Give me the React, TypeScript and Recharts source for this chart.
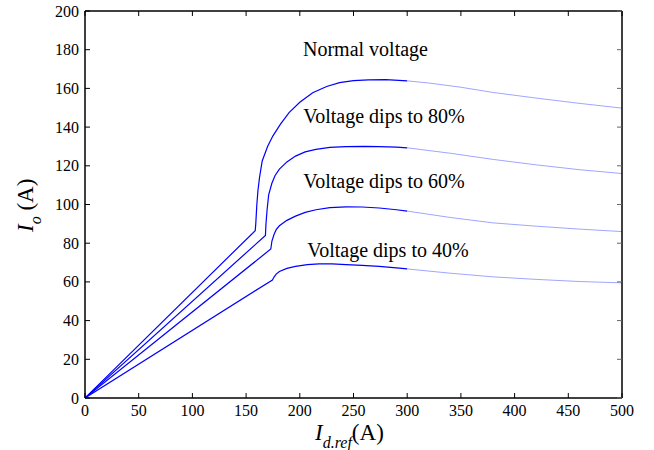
import React from "react";
import {
  LineChart,
  Line,
  XAxis,
  YAxis,
  ReferenceDot,
  Label,
} from "recharts";

const FONT = "Liberation Serif";

// curve data: dark part up to 300 A, light part 300..500 A
const normalX = [0, 158.5, 159, 160, 161, 162.5, 165, 170, 175, 182, 190, 200, 212, 225, 237, 250, 264, 280, 300];
const normalY = [0, 86.5, 90, 100, 107, 114, 122.5, 130, 135.5, 141.5, 147.5, 152.8, 157.8, 161, 163, 164, 164.4, 164.5, 163.9];
const normalTailX = [300, 320, 350, 380, 420, 460, 500];
const normalTailY = [163.9, 162.8, 160.6, 157.9, 155, 152.3, 149.8];

const dip80X = [0, 168, 168.5, 169.5, 171, 174, 177, 181, 188, 196, 205, 215, 228, 243, 260, 274, 290, 300];
const dip80Y = [0, 84, 90, 97, 105, 111, 115, 118.3, 122, 125, 127.2, 128.5, 129.5, 129.9, 130, 129.9, 129.6, 129.3];
const dip80TailX = [300, 340, 380, 420, 460, 500];
const dip80TailY = [129.3, 126.5, 123.3, 120.5, 118, 116];

const dip60X = [0, 173, 174, 176, 178, 181, 188, 196, 205, 215, 228, 243, 258, 274, 290, 300];
const dip60Y = [0, 77, 81, 84.5, 87, 89, 91.8, 94, 95.9, 97.3, 98.4, 98.8, 98.7, 98.2, 97.3, 96.6];
const dip60TailX = [300, 340, 380, 420, 460, 500];
const dip60TailY = [96.6, 93.3, 90.5, 88.8, 87.3, 86];

const dip40X = [0, 174.5, 176, 178, 181, 188, 196, 207, 218, 230, 243, 258, 274, 290, 300];
const dip40Y = [0, 61, 62.5, 64, 65.4, 67, 68, 68.9, 69.3, 69.3, 68.9, 68.5, 68, 67.2, 66.7];
const dip40TailX = [300, 340, 380, 420, 460, 500];
const dip40TailY = [66.7, 64.5, 62.6, 61.3, 60.2, 59.5];

const xTicks = [0, 50, 100, 150, 200, 250, 300, 350, 400, 450, 500];
const yTicks = [0, 20, 40, 60, 80, 100, 120, 140, 160, 180, 200];

const labelTexts = ["Normal voltage", "Voltage dips to 80%", "Voltage dips to 60%", "Voltage dips to 40%"];
const labelX = [203, 203.3, 203.3, 207];
const labelY = [176.7, 142, 108.4, 72.7];

const toPoints = (xs: number[], ys: number[]) => xs.map((x, i) => ({ x, y: ys[i] }));

const series = [
  { id: "normal", head: toPoints(normalX, normalY), tail: toPoints(normalTailX, normalTailY) },
  { id: "dip80", head: toPoints(dip80X, dip80Y), tail: toPoints(dip80TailX, dip80TailY) },
  { id: "dip60", head: toPoints(dip60X, dip60Y), tail: toPoints(dip60TailX, dip60TailY) },
  { id: "dip40", head: toPoints(dip40X, dip40Y), tail: toPoints(dip40TailX, dip40TailY) },
];

const blank = () => "";

function XTick(props: any) {
  const { x, y, payload } = props;
  return (
    <text x={x} y={y + 21} textAnchor="middle" style={{ fontFamily: FONT, fontSize: 16 }} fill="#000">
      {payload.value}
    </text>
  );
}

function YTick(props: any) {
  const { x, y, payload } = props;
  return (
    <text x={x - 9} y={y + 5.5} textAnchor="end" style={{ fontFamily: FONT, fontSize: 16 }} fill="#000">
      {payload.value}
    </text>
  );
}

function XTitle() {
  return (
    <text x={315} y={440} style={{ fontFamily: FONT }} fill="#000">
      <tspan fontSize={23} fontStyle="italic">I</tspan>
      <tspan fontSize={16} fontStyle="italic" dy={8}>d.ref</tspan>
      <tspan fontSize={23} dy={-8}>(A)</tspan>
    </text>
  );
}

function YTitle() {
  return (
    <text x={0} y={0} transform="translate(33,232) rotate(-90)" style={{ fontFamily: FONT }} fill="#000">
      <tspan fontSize={23} fontStyle="italic">I</tspan>
      <tspan fontSize={16} fontStyle="italic" dy={8}>o</tspan>
      <tspan fontSize={23} dy={-8}> (A)</tspan>
    </text>
  );
}

function Note(props: any) {
  const { viewBox, value } = props;
  return (
    <text x={viewBox.x} y={viewBox.y} style={{ fontFamily: FONT, fontSize: 20 }} fill="#000">
      {value}
    </text>
  );
}

const frame = { stroke: "#000", strokeWidth: 1.5 };

export default function App() {
  return (
    <div style={{ position: "absolute", left: 0, top: 0, width: 654, height: 450, background: "#fff" }}>
      <LineChart width={654} height={450} margin={{ top: 10, right: 31, left: 45, bottom: 22 }}>
        <XAxis
          xAxisId="b"
          type="number"
          dataKey="x"
          domain={[0, 500]}
          ticks={xTicks}
          allowDataOverflow
          height={30}
          tickSize={-5}
          tick={<XTick />}
          axisLine={frame}
          tickLine={{ stroke: "#000" }}
        >
          <Label content={<XTitle />} />
        </XAxis>
        <XAxis
          xAxisId="t"
          orientation="top"
          type="number"
          dataKey="x"
          domain={[0, 500]}
          ticks={xTicks}
          allowDataOverflow
          height={1}
          tickSize={-5}
          tickFormatter={blank}
          axisLine={frame}
          tickLine={{ stroke: "#000" }}
        />
        <YAxis
          yAxisId="l"
          type="number"
          dataKey="y"
          domain={[0, 200]}
          ticks={yTicks}
          allowDataOverflow
          width={40}
          tickSize={-5}
          tick={<YTick />}
          axisLine={frame}
          tickLine={{ stroke: "#000" }}
        >
          <Label content={<YTitle />} />
        </YAxis>
        <YAxis
          yAxisId="r"
          orientation="right"
          type="number"
          dataKey="y"
          domain={[0, 200]}
          ticks={yTicks}
          allowDataOverflow
          width={1}
          tickSize={-5}
          tickFormatter={blank}
          axisLine={frame}
          tickLine={{ stroke: "#666" }}
        />
        {series.map((s) => (
          <Line
            key={s.id + "-head"}
            xAxisId="b"
            yAxisId="l"
            data={s.head}
            dataKey="y"
            type="linear"
            stroke="#0000ff"
            strokeWidth={1.2}
            dot={false}
            isAnimationActive={false}
          />
        ))}
        {series.map((s) => (
          <Line
            key={s.id + "-tail"}
            xAxisId="t"
            yAxisId="r"
            data={s.tail}
            dataKey="y"
            type="linear"
            stroke="#9fa6ff"
            strokeWidth={1}
            dot={false}
            isAnimationActive={false}
          />
        ))}
        {labelTexts.map((t, i) => (
          <ReferenceDot
            key={t}
            xAxisId="b"
            yAxisId="l"
            x={labelX[i]}
            y={labelY[i]}
            r={0}
            stroke="none"
            fill="none"
            label={<Note value={t} />}
          />
        ))}
      </LineChart>
    </div>
  );
}
